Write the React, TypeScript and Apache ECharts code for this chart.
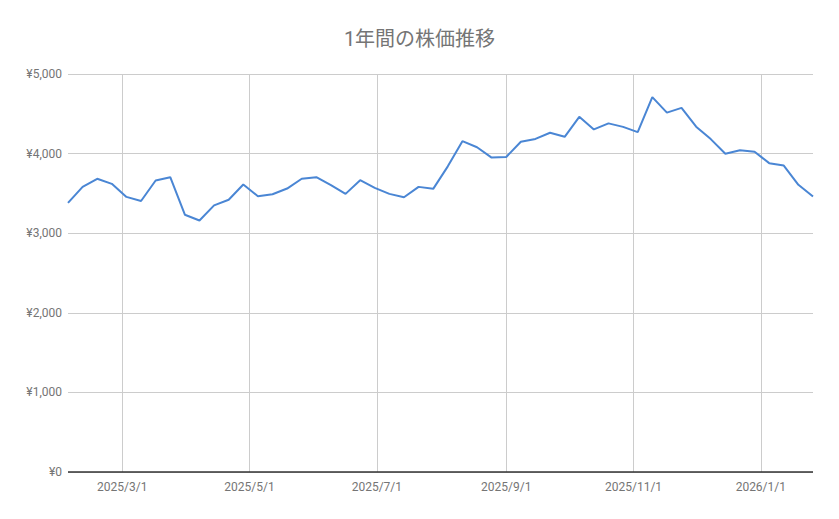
import { useEffect, useRef } from 'react';
import * as echarts from 'echarts';

// 週次の日付（月曜）
const dates = [
  '2025-02-03', '2025-02-10', '2025-02-17', '2025-02-24',
  '2025-03-03', '2025-03-10', '2025-03-17', '2025-03-24', '2025-03-31',
  '2025-04-07', '2025-04-14', '2025-04-21', '2025-04-28',
  '2025-05-05', '2025-05-12', '2025-05-19', '2025-05-26',
  '2025-06-02', '2025-06-09', '2025-06-16', '2025-06-23', '2025-06-30',
  '2025-07-07', '2025-07-14', '2025-07-21', '2025-07-28',
  '2025-08-04', '2025-08-11', '2025-08-18', '2025-08-25',
  '2025-09-01', '2025-09-08', '2025-09-15', '2025-09-22', '2025-09-29',
  '2025-10-06', '2025-10-13', '2025-10-20', '2025-10-27',
  '2025-11-03', '2025-11-10', '2025-11-17', '2025-11-24',
  '2025-12-01', '2025-12-08', '2025-12-15', '2025-12-22', '2025-12-29',
  '2026-01-05', '2026-01-12', '2026-01-19', '2026-01-26',
];

// 株価（円）
const prices = [
  3380, 3582, 3684, 3620,
  3456, 3405, 3662, 3704, 3232,
  3160, 3350, 3420, 3611,
  3465, 3490, 3561, 3684,
  3704, 3603, 3494, 3666, 3570,
  3494, 3451, 3582, 3557,
  3840, 4156, 4080, 3950,
  3958, 4148, 4184, 4262, 4211,
  4462, 4304, 4380, 4336,
  4270, 4709, 4515, 4574,
  4338, 4182, 3998, 4042, 4023,
  3880, 3850, 3608, 3461,
];

// 目盛りラベルの日付
const tickDates = ['2025-03-01', '2025-05-01', '2025-07-01', '2025-09-01', '2025-11-01', '2026-01-01'];

const toTime = (s: string) => {
  const [y, m, d] = s.split('-').map(Number);
  return new Date(y, m - 1, d).getTime();
};

const colors = {
  line: '#4a86d4',
  text: '#757575',
  grid: '#cccccc',
  axis: '#333333',
};

export default function App() {
  const chartRef = useRef<HTMLDivElement>(null);

  useEffect(() => {
    if (!chartRef.current) return;
    const chart = echarts.init(chartRef.current, undefined, { renderer: 'svg' });

    const tickValues = tickDates.map(toTime);

    const option: echarts.EChartsOption = {
      animation: false,
      backgroundColor: '#ffffff',
      textStyle: { fontFamily: 'Roboto, "Noto Sans CJK JP", sans-serif' },
      title: {
        text: '1年間の株価推移',
        left: 'center',
        top: 24,
        textStyle: {
          color: colors.text,
          fontSize: 20,
          fontWeight: 'normal',
          fontFamily: 'Roboto, "Noto Sans CJK JP", sans-serif',
        },
      },
      grid: { left: 68, right: 26, top: 74, bottom: 47, containLabel: false },
      xAxis: {
        type: 'value',
        min: toTime(dates[0]),
        max: toTime(dates[dates.length - 1]),
        axisLine: { show: false },
        axisTick: { show: false, customValues: tickValues },
        axisLabel: {
          customValues: tickValues,
          color: colors.text,
          fontSize: 12,
          margin: 9,
          formatter: (v: number) => {
            const d = new Date(v);
            return `${d.getFullYear()}/${d.getMonth() + 1}/${d.getDate()}`;
          },
        },
        splitLine: { show: false },
      },
      yAxis: {
        type: 'value',
        min: 0,
        max: 5000,
        interval: 1000,
        axisLine: { show: false },
        axisTick: { show: false },
        axisLabel: {
          color: colors.text,
          fontSize: 12,
          margin: 6,
          formatter: (v: number) => '¥' + v.toLocaleString('en-US'),
        },
        splitLine: { lineStyle: { color: colors.grid, width: 1 } },
      },
      series: [
        {
          type: 'line',
          data: dates.map((d, i) => [toTime(d), prices[i]]),
          symbol: 'none',
          lineStyle: { color: colors.line, width: 2 },
          z: 3,
          markLine: {
            silent: true,
            symbol: 'none',
            label: { show: false },
            z: 1,
            data: [
              ...tickValues.map((t) => ({
                xAxis: t,
                lineStyle: { color: colors.grid, width: 1, type: 'solid' as const },
              })),
              {
                yAxis: 0,
                lineStyle: { color: colors.axis, width: 1.5, type: 'solid' as const },
              },
            ],
          },
        },
      ],
    };

    chart.setOption(option);
    return () => chart.dispose();
  }, []);

  return (
    <div
      ref={chartRef}
      style={{ position: 'fixed', left: 0, top: 0, width: 839, height: 519 }}
    />
  );
}
